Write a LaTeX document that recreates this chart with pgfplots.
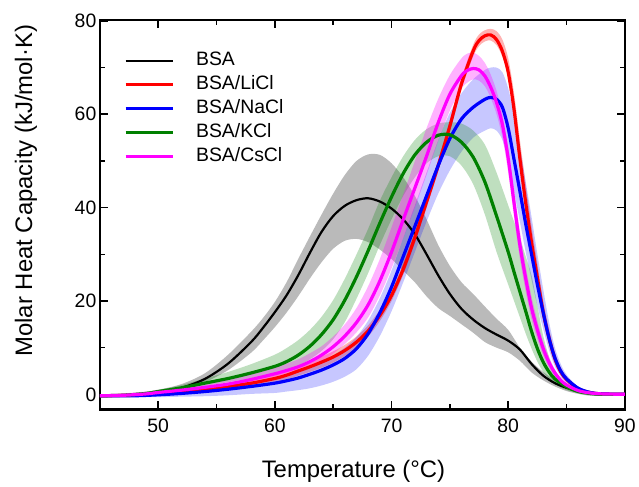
\documentclass[border=0pt]{standalone}
\usepackage{fontspec}
\setmainfont{Liberation Sans}
\usepackage{pgfplots}
\pgfplotsset{compat=1.18}
\usepackage{pgfplotstable}
\usepgfplotslibrary{fillbetween}
\definecolor{kgreen}{RGB}{0,128,0}
\definecolor{kred}{RGB}{255,0,0}
\definecolor{kblue}{RGB}{0,0,255}
\definecolor{kmag}{RGB}{255,0,255}

\pgfplotstableread{
x y lo hi
45 -0.3 -0.6 0
48 -0.1 -0.4 0.3
50 0.4 0 1.0
52 1.4 0.9 2.2
54 3.3 2.6 4.5
56 6.6 5.2 8.5
58 11.3 9.0 13.5
59 14.3 11.6 16.4
60 17.6 14.4 19.8
61 21.2 17.5 24.0
62 25.5 21.0 29.0
63 30.3 24.8 33.8
64 34.8 28.3 38.5
65 38.2 31.2 43.0
66 40.4 32.9 47.0
67 41.6 33.3 50.0
68 42.0 32.6 51.4
69 41.3 31.0 51.3
70 39.8 29.0 49.5
71 37.5 26.5 46.5
72 34.3 24.0 42.5
73 30.0 21.0 37.5
74 25.5 18.5 32.0
75 21.5 16.8 27.5
76 18.3 15.0 24.0
77 16.0 13.2 21.5
78 14.2 11.2 18.8
79 12.8 10.0 16.2
80 11.5 9.0 13.8
81 9.6 7.2 10.0
82 6.5 4.7 7.0
83 4.0 3.0 4.8
84 2.4 1.7 3.0
85 1.4 0.7 1.7
86 0.7 0.1 0.8
87 0.2 -0.3 0.3
88 0 -0.3 0
90 0 -0.3 0
}\bsa

\pgfplotstableread{
x y lo hi
45 -0.3 -0.5 0
48 -0.2 -0.5 0.1
50 0.2 -0.3 0.6
52 0.6 0.1 1.1
54 1.1 0.6 1.6
56 1.7 1.1 2.3
58 2.4 1.7 3.1
60 3.4 2.6 4.2
61 4.1 3.2 5.0
62 5.0 4.0 6.0
63 5.9 4.8 7.0
64 6.9 5.7 8.1
65 8.0 6.8 9.2
66 9.4 8.2 10.6
67 11.2 10.0 12.4
68 13.6 12.4 14.8
69 16.9 15.7 18.1
70 21.2 20.0 22.4
71 26.8 25.6 28.0
72 33.6 32.4 34.8
73 41.2 40.0 42.4
74 49.0 47.8 50.2
75 57.5 56.3 58.7
76 66.6 65.4 67.8
77 73.6 72.4 74.9
77.5 75.8 74.6 77.1
78 76.8 75.6 78.0
78.5 77.0 75.8 78.3
79 76.0 74.8 77.8
79.5 73.5 72.3 76.0
80 69.0 67.8 72.0
80.5 61.0 59.8 64.5
81 50.5 49.3 54.5
81.5 41.0 39.8 45.0
82 32.5 31.3 36.0
82.5 25.0 23.8 28.0
83 17.5 16.3 20.0
83.5 12.0 11.0 14.0
84 7.6 6.8 9.0
84.5 4.8 4.2 5.8
85 3.2 2.7 3.8
86 1.2 0.9 1.6
87 0.4 0.2 0.6
88 0.1 0 0.2
90 0 -0.1 0.1
}\licl

\pgfplotstableread{
x y lo hi
45 -0.3 -0.6 0
48 -0.3 -0.6 0.1
50 -0.1 -0.6 0.3
52 0.2 -0.5 0.6
54 0.6 -0.4 1.1
56 1.1 -0.2 1.7
58 1.7 0.1 2.5
60 2.4 0.3 3.4
61 2.9 0.6 4.2
62 3.5 0.9 5.0
63 4.3 1.3 6.0
64 5.2 1.9 7.1
65 6.3 2.7 8.4
66 7.7 3.8 10.0
67 9.8 5.4 12.3
68 13.0 8.3 15.8
69 17.5 12.5 20.6
70 23.0 17.8 26.5
71 29.5 24.0 33.5
72 36.0 30.5 40.5
73 42.5 37.0 47.5
74 49.0 43.0 54.5
75 54.8 48.0 60.3
76 59.0 52.0 64.5
77 61.5 55.0 67.5
78 63.2 56.5 69.5
78.5 63.6 57.0 70.0
79 63.2 56.5 70.0
79.5 61.5 54.5 69.0
80 57.0 50.0 65.5
80.5 50.3 43.5 60.0
81 43.5 37.0 53.0
81.5 36.5 30.5 45.5
82 30.0 24.5 38.0
82.5 23.5 19.0 30.0
83 17.5 14.0 22.5
83.5 12.0 9.5 15.5
84 7.8 6.0 10.0
84.5 5.0 3.8 6.5
85 3.3 2.4 4.2
86 1.3 0.9 1.6
87 0.4 0.2 0.5
88 0.1 0 0.1
90 0 -0.1 0
}\nacl

\pgfplotstableread{
x y lo hi
45 -0.3 -0.6 0
47 -0.2 -0.4 0.1
49 0.2 0 0.5
50 0.6 0.3 0.9
52 1.4 1.0 2.0
54 2.4 1.8 3.4
56 3.4 2.6 4.8
58 4.6 3.5 6.5
60 6.0 4.5 8.5
61 7.0 5.2 9.9
62 8.4 6.1 11.6
63 10.3 7.5 13.8
64 12.8 9.3 16.6
65 16.0 11.8 20.2
66 20.2 15.5 24.8
67 25.2 20.5 30.0
68 30.8 26.0 35.5
69 36.7 32.0 41.5
70 42.3 37.5 46.5
71 47.3 42.5 51.0
72 51.3 46.5 54.5
73 54.0 49.5 56.8
74 55.5 51.0 58.0
75 55.6 51.0 58.3
76 54.0 49.0 58.0
77 50.8 45.0 56.5
78 45.5 38.5 53.5
79 38.2 30.5 47.5
80 30.5 23.5 40.5
80.5 26.2 20.0 37.0
81 22.0 16.5 33.5
81.5 17.8 13.0 29.5
82 13.5 9.8 25.5
82.5 9.8 7.0 19.0
83 6.9 4.8 12.5
83.5 4.8 3.3 8.0
84 3.3 2.2 5.0
85 1.6 0.9 2.2
86 0.6 0.3 0.8
87 0.2 0 0.3
88 0 0 0
90 0 0 0
}\kcl

\pgfplotstableread{
x y lo hi
45 -0.3 -0.6 0
47 -0.2 -0.5 0.2
49 0.1 -0.2 0.6
50 0.4 0.1 0.8
52 0.9 0.5 1.4
54 1.5 1.0 2.2
56 2.2 1.6 3.1
58 3.2 2.5 4.3
60 4.4 3.6 5.8
61 5.1 4.2 6.6
62 5.9 4.8 7.5
63 7.0 5.8 8.8
64 8.4 7.0 10.3
65 10.2 8.7 12.4
66 12.5 10.8 15.0
67 15.4 13.3 18.5
68 19.2 16.5 23.2
69 24.3 21.2 29.0
70 30.5 27.0 35.8
71 37.4 33.5 42.8
72 44.2 40.0 50.0
73 51.0 47.0 57.0
74 58.2 54.3 63.3
75 64.3 60.8 68.4
76 68.3 65.5 72.0
76.5 69.4 66.8 73.0
77 69.8 67.5 73.2
77.5 69.5 67.2 72.5
78 68.2 66.0 71.0
78.5 65.8 63.5 68.5
79 62.5 60.0 65.0
79.5 57.8 55.0 60.0
80 50.5 47.5 53.0
80.5 41.0 38.0 44.0
81 32.0 29.0 35.0
81.5 24.8 22.0 27.5
82 18.5 16.0 21.0
82.5 13.8 11.8 15.8
83 9.8 8.3 11.3
83.5 6.8 5.7 8.0
84 4.6 3.8 5.4
84.5 3.0 2.5 3.6
85 2.0 1.6 2.4
86 0.8 0.6 1.0
87 0.3 0.2 0.4
88 0.1 0 0.1
90 0 0 0
}\cscl

\begin{document}
\begin{tikzpicture}
\begin{axis}[
  scale only axis, width=526bp, height=390bp,
  xmin=45, xmax=90, ymin=-3.2, ymax=80.2,
  xtick={50,60,70,80,90}, ytick={0,20,40,60,80},
  minor x tick num=1, minor y tick num=1,
  tick align=inside,
  major tick length=8bp, minor tick length=5bp,
  every tick/.style={line width=1.6bp, black},
  axis line style={line width=2.5bp},
  /pgf/number format/assume math mode=true,
  tick label style={font=\fontsize{19.5}{23}\selectfont},
  xticklabel style={yshift=-6bp},
  label style={font=\fontsize{24}{28}\selectfont},
  xlabel={Temperature (°C)},
  ylabel={Molar Heat Capacity (kJ/mol·K)},
  xlabel style={at={(axis description cs:0.483,-0.176)}, anchor=base},
  ylabel style={at={(axis description cs:-0.129,0.5615)}, anchor=base},
  legend style={at={(axis description cs:0.04,0.932)}, anchor=north west,
    draw=none, fill=none, font=\fontsize{19.5}{23}\selectfont,
    row sep=0pt,
    nodes={inner sep=3bp, text height=14bp, text depth=4bp},
    /tikz/every odd column/.append style={column sep=19bp}},
  legend cell align=left,
  legend image code/.code={\draw[#1] (0bp,0bp) -- (47bp,0bp);},
]
% BSA
\addplot[draw=none, forget plot, smooth, name path=bh] table[x=x,y=hi]{\bsa};
\addplot[draw=none, forget plot, smooth, name path=bl] table[x=x,y=lo]{\bsa};
\addplot[fill=black, fill opacity=0.27, draw=none, forget plot] fill between[of=bh and bl];
\addplot[black, line width=2.2bp, smooth] table[x=x,y=y]{\bsa};
\addlegendentry{BSA}
% LiCl
\addplot[draw=none, forget plot, smooth, name path=rh] table[x=x,y=hi]{\licl};
\addplot[draw=none, forget plot, smooth, name path=rl] table[x=x,y=lo]{\licl};
\addplot[fill=kred, fill opacity=0.3, draw=none, forget plot] fill between[of=rh and rl];
\addplot[kred, line width=3.2bp, smooth] table[x=x,y=y]{\licl};
\addlegendentry{BSA/LiCl}
% NaCl
\addplot[draw=none, forget plot, smooth, name path=nh] table[x=x,y=hi]{\nacl};
\addplot[draw=none, forget plot, smooth, name path=nl] table[x=x,y=lo]{\nacl};
\addplot[fill=kblue, fill opacity=0.22, draw=none, forget plot] fill between[of=nh and nl];
\addplot[kblue, line width=3.2bp, smooth] table[x=x,y=y]{\nacl};
\addlegendentry{BSA/NaCl}
% KCl
\addplot[draw=none, forget plot, smooth, name path=kh] table[x=x,y=hi]{\kcl};
\addplot[draw=none, forget plot, smooth, name path=kl] table[x=x,y=lo]{\kcl};
\addplot[fill=kgreen, fill opacity=0.25, draw=none, forget plot] fill between[of=kh and kl];
\addplot[kgreen, line width=3.2bp, smooth] table[x=x,y=y]{\kcl};
\addlegendentry{BSA/KCl}
% CsCl
\addplot[draw=none, forget plot, smooth, name path=ch] table[x=x,y=hi]{\cscl};
\addplot[draw=none, forget plot, smooth, name path=cl] table[x=x,y=lo]{\cscl};
\addplot[fill=kmag, fill opacity=0.3, draw=none, forget plot] fill between[of=ch and cl];
\addplot[kmag, line width=3.2bp, smooth] table[x=x,y=y]{\cscl};
\addlegendentry{BSA/CsCl}
\end{axis}
\path ([xshift=-100bp,yshift=-72bp]current axis.south west) rectangle ([xshift=13bp,yshift=20bp]current axis.north east);
\end{tikzpicture}
\end{document}
